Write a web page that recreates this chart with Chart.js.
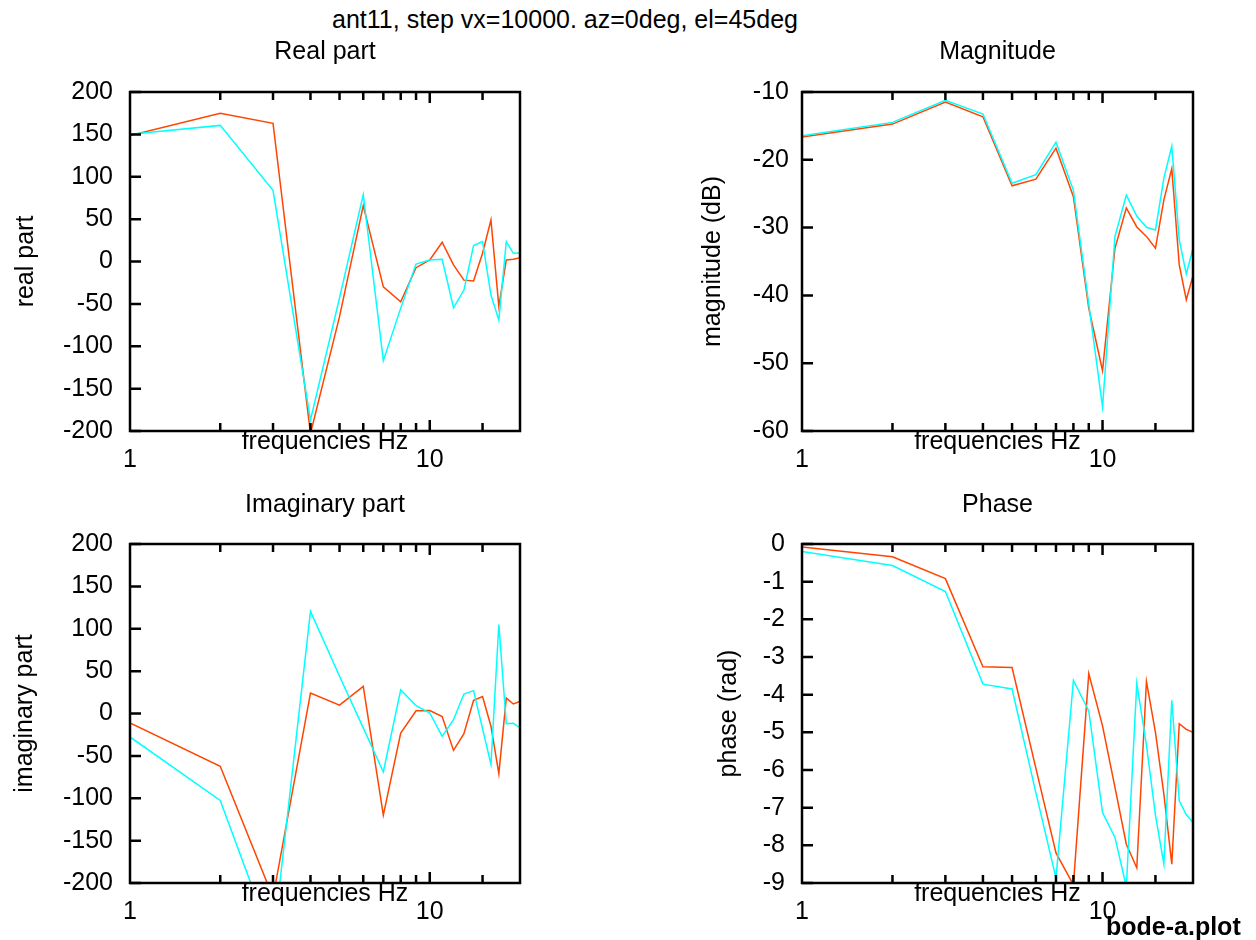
<!DOCTYPE html>
<html>
<head>
<meta charset="utf-8">
<script src="https://cdn.jsdelivr.net/npm/chart.js@4.4.0/dist/chart.umd.min.js"></script>
<style>
  body { margin: 0; background: #fff; width: 1256px; height: 940px; overflow: hidden; position: relative;
         font-family: "Liberation Sans", Arial, sans-serif; color: #000; }
  canvas { position: absolute; }
  #title { position: absolute; left: 0; top: 4px; width: 1130px; text-align: center; font-size: 25px; line-height: 30px; }
  #fname { position: absolute; left: 1106px; top: 911px; font-size: 25px; line-height: 30px; font-weight: bold; }
</style>
</head>
<body>
<div id="title">ant11, step vx=10000. az=0deg, el=45deg</div>
<canvas id="c_real" width="628" height="475" style="left:0;top:0"></canvas>
<canvas id="c_mag" width="628" height="475" style="left:628px;top:0"></canvas>
<canvas id="c_imag" width="628" height="465" style="left:0;top:475px"></canvas>
<canvas id="c_phase" width="628" height="465" style="left:628px;top:475px"></canvas>
<div id="fname">bode-a.plot</div>
<script>
// frequencies (Hz)
const freqs = [1, 2, 3, 4, 5, 6, 7, 8, 9, 10, 11, 12, 13, 14, 15, 16, 17, 18, 19, 20];

// real part
const realRed  = [148.5, 175, 163, -203, -65, 66, -30, -47.5, -7.3, 1.8, 22.7, -4, -22, -23, 9.7, 49, -53, 1.8, 2.6, 4.5];
const realCyan = [150, 160.6, 84, -187, -43, 79, -117, -55, -3, 1.8, 2.6, -54.6, -33.7, 18.7, 23.4, -39.6, -69, 23.4, 9.7, 10];

// magnitude (dB)
const magRed  = [-16.65, -14.73, -11.48, -13.65, -23.84, -22.86, -18.28, -25.45, -41.9, -51.1, -33.05, -27.1, -29.9, -31.3, -33.05, -25.9, -21.3, -35.5, -40.65, -37.1];
const magCyan = [-16.45, -14.48, -11.23, -13.25, -23.45, -22.2, -17.4, -24.5, -41.3, -56.45, -31.3, -25.2, -28.3, -29.95, -30.35, -22.7, -18.0, -31.8, -36.85, -33.05];

// imaginary part
const imagRed  = [-11.2, -62.3, -217, 24, 9.8, 32, -120, -23, 3.3, 3.5, -3.5, -43.5, -23.8, 15.5, 20, -15, -71, 18.2, 11.2, 14.3];
const imagCyan = [-27.7, -102.5, -271, 120.5, 44, -17, -69, 28, 9.2, 0.6, -27, -7.3, 23, 27, -18, -60, 105, -12, -11.5, -17];

// phase (rad)
const phaseRed  = [-0.08, -0.34, -0.92, -3.26, -3.28, -5.95, -8.2, -9.05, -3.44, -4.83, -6.46, -7.97, -8.6, -3.65, -5.0, -6.64, -8.5, -4.77, -4.92, -5.0];
const phaseCyan = [-0.2, -0.57, -1.26, -3.72, -3.85, -6.6, -8.87, -3.62, -4.43, -7.13, -7.79, -9.1, -3.7, -5.34, -7.2, -8.5, -4.15, -6.82, -7.19, -7.39];

const RED = '#ff4500';
const CYAN = '#00ffff';
const font = { family: '"Liberation Sans", Arial, sans-serif', size: 25, weight: 'normal' };

// gnuplot style box with inward ticks
const framePlugin = {
    id: 'frame',
    afterDatasetsDraw(chart) {
        const { ctx, chartArea: a, scales: { x, y } } = chart;
        ctx.save();
        ctx.strokeStyle = '#000';
        ctx.lineWidth = 2.5;
        ctx.strokeRect(a.left, a.top, a.right - a.left, a.bottom - a.top);
        ctx.beginPath();
        y.ticks.forEach(t => {
            const py = y.getPixelForValue(t.value);
            ctx.moveTo(a.left, py);
            ctx.lineTo(a.left + 11, py);
        });
        x.ticks.forEach(t => {
            if (t.value <= 1 || t.value >= 20) return;
            const px = x.getPixelForValue(t.value);
            const len = t.value === 10 ? 11 : 8;
            ctx.moveTo(px, a.top);
            ctx.lineTo(px, a.top + len);
            ctx.moveTo(px, a.bottom);
            ctx.lineTo(px, a.bottom - len);
        });
        ctx.stroke();
        ctx.restore();
    }
};

function toPoints(vals) {
    return freqs.map((f, i) => ({ x: f, y: vals[i] }));
}

function makePanel(id, title, ytitle, red, cyan, o) {
    new Chart(document.getElementById(id), {
        type: 'line',
        data: {
            datasets: [
                { data: toPoints(cyan), borderColor: CYAN, borderWidth: 1.5, pointRadius: 0, tension: 0, fill: false },
                { data: toPoints(red), borderColor: RED, borderWidth: 1.5, pointRadius: 0, tension: 0, fill: false }
            ]
        },
        options: {
            responsive: false,
            animation: false,
            devicePixelRatio: 1,
            layout: { padding: { left: 0, right: o.right, top: 0, bottom: 0 } },
            plugins: {
                legend: { display: false },
                tooltip: { enabled: false },
                title: {
                    display: true, text: title, font: font, color: '#000', fullSize: false,
                    padding: { top: o.tTop, bottom: o.tBottom }
                }
            },
            scales: {
                x: {
                    type: 'logarithmic', min: 1, max: 20,
                    afterFit: s => { s.height = o.xh; },
                    grid: { display: false, drawTicks: false },
                    border: { display: false },
                    ticks: {
                        autoSkip: false, maxRotation: 0, padding: 14, font: font, color: '#000',
                        callback: v => (v === 1 || v === 10) ? String(v) : ''
                    },
                    title: { display: true, text: 'frequencies Hz', font: font, color: '#000', padding: { top: 0, bottom: o.xtb } }
                },
                y: {
                    min: o.min, max: o.max,
                    afterFit: s => { s.width = o.yw; },
                    grid: { display: false, drawTicks: false },
                    border: { display: false },
                    ticks: { stepSize: o.step, padding: o.ytp, font: font, color: '#000' },
                    title: { display: true, text: ytitle, font: font, color: '#000', padding: { top: o.ytt, bottom: 0 } }
                }
            }
        },
        plugins: [framePlugin]
    });
}

makePanel('c_real', 'Real part', 'real part', realRed, realCyan,
    { right: 108, tTop: 37, tBottom: 25, xh: 44, xtb: 18, yw: 130, ytp: 17, ytt: 11, min: -200, max: 200, step: 50 });
makePanel('c_mag', 'Magnitude', 'magnitude (dB)', magRed, magCyan,
    { right: 63, tTop: 37, tBottom: 25, xh: 44, xtb: 18, yw: 174, ytp: 13, ytt: 70, min: -60, max: -10, step: 10 });
makePanel('c_imag', 'Imaginary part', 'imaginary part', imagRed, imagCyan,
    { right: 108, tTop: 15, tBottom: 24, xh: 57, xtb: 31, yw: 130, ytp: 17, ytt: 10, min: -200, max: 200, step: 50 });
makePanel('c_phase', 'Phase', 'phase (rad)', phaseRed, phaseCyan,
    { right: 63, tTop: 15, tBottom: 24, xh: 57, xtb: 31, yw: 174, ytp: 17, ytt: 86, min: -9, max: 0, step: 1 });
</script>
</body>
</html>
